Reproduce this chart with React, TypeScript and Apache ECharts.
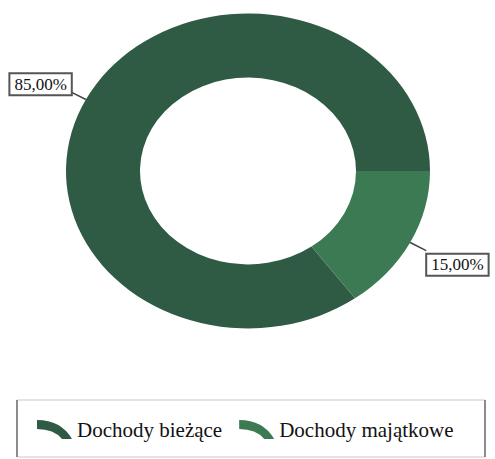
import React, { useEffect, useRef } from "react";
import * as echarts from "echarts";

const categories = ["Dochody bieżące", "Dochody majątkowe"];
const values = [85, 15];
const labelTexts = ["85,00%", "15,00%"];
const colors = ["#2f5b45", "#3b7a52"];

const ICON = "path://M0,2 Q24,2 35,21 L25,21 Q17,11 0,11 Z";

export default function App() {
  const ref = useRef<HTMLDivElement>(null);
  useEffect(() => {
    if (!ref.current) return;
    const chart = echarts.init(ref.current, null, { renderer: "svg" });
    const total = values.reduce((a, b) => a + b, 0);
    const CX = 248, CY = 171, R = 182, R0 = 108, SY = 0.865;
    const START = (54 * Math.PI) / 180;

    const series = categories.map((name, i) => ({
      type: "custom",
      name,
      coordinateSystem: "none",
      itemStyle: { color: colors[i] },
      data: [[values[i]]],
      renderItem: (params: any, api: any) => {
        const v = api.value(0);
        let before = 0;
        for (let k = 0; k < i; k++) before += values[k];
        const a0 = START + (before / total) * Math.PI * 2;
        const a1 = a0 + (v / total) * Math.PI * 2;
        const mid = (a0 + a1) / 2;
        const c = Math.cos(mid), s = Math.sin(mid);
        const px = CX + R * c, py = CY + R * SY * s;
        const ex = px + 18 * c, ey = py + 18 * s;
        const left = c < 0;
        return {
          type: "group",
          children: [
            {
              type: "sector",
              x: CX,
              y: CY,
              scaleY: SY,
              shape: { cx: 0, cy: 0, r: R, r0: R0, startAngle: a0, endAngle: a1, clockwise: true },
              style: { fill: colors[i] },
            },
            {
              type: "polyline",
              shape: { points: [[px, py], [ex, ey]] },
              style: { stroke: "#444", lineWidth: 1.5, fill: null },
            },
            {
              type: "text",
              x: ex + 1,
              y: left ? ey - 7 : ey + 14,
              style: {
                text: labelTexts[i],
                font: "17px serif",
                fill: "#111",
                align: left ? "right" : "left",
                verticalAlign: "middle",
                backgroundColor: "#fff",
                borderColor: "#555",
                borderWidth: 2,
                padding: [2, 4, 1, 4],
              },
            },
          ],
        };
      },
    }));

    chart.setOption({
      animation: false,
      backgroundColor: "#fff",
      legend: {
        data: categories,
        left: 37,
        top: 419,
        padding: 0,
        itemWidth: 35,
        itemHeight: 21,
        itemGap: 17,
        icon: ICON,
        textStyle: { fontFamily: "serif", fontSize: 21, color: "#111" },
      },
      graphic: [
        { type: "line", shape: { x1: 17, y1: 400, x2: 485, y2: 400 }, style: { stroke: "#c8c8c8", lineWidth: 1 } },
        { type: "line", shape: { x1: 17, y1: 457, x2: 485, y2: 457 }, style: { stroke: "#c8c8c8", lineWidth: 1 } },
        { type: "line", shape: { x1: 17, y1: 400, x2: 17, y2: 457 }, style: { stroke: "#666", lineWidth: 1.5 } },
        { type: "line", shape: { x1: 485, y1: 400, x2: 485, y2: 457 }, style: { stroke: "#666", lineWidth: 1.5 } },
      ],
      series,
    } as any);
    return () => chart.dispose();
  }, []);
  return (
    <div
      ref={ref}
      style={{ position: "fixed", left: 0, top: 0, width: 495, height: 459 }}
    />
  );
}
